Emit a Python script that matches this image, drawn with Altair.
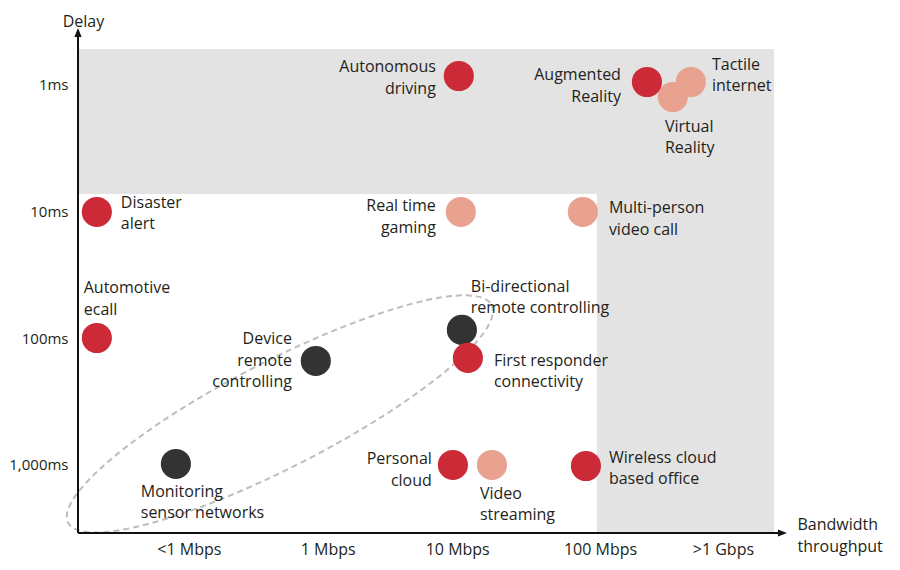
import json
import altair as alt
import pandas as pd

# ---- axis ticks (positions on an ordinal-like bandwidth / delay index) ----
x_tick_pos = [1.0, 2.04, 3.01, 4.08, 5.0]
x_tick_labels = ["<1 Mbps", "1 Mbps", "10 Mbps", "100 Mbps", ">1 Gbps"]
y_tick_pos = [1, 2, 3, 4]
y_tick_labels = ["1,000ms", "100ms", "10ms", "1ms"]
x_domain = [0.17, 5.48]
y_domain = [0.463, 4.449]

# ---- applications (drawing order) ----
app_names = ["Virtual\nReality", "Augmented\nReality", "Tactile\ninternet",
             "Autonomous\ndriving", "Disaster\nalert", "Real time\ngaming",
             "Multi-person\nvideo call", "Automotive\necall",
             "Device\nremote\ncontrolling", "Bi-directional\nremote controlling",
             "First responder\nconnectivity", "Monitoring\nsensor networks",
             "Personal\ncloud", "Video\nstreaming", "Wireless cloud\nbased office"]
app_bandwidth = [4.625, 4.431, 4.760, 3.022, 0.311, 3.037, 3.951, 0.311,
                 1.951, 3.045, 3.090, 0.903, 2.978, 3.270, 3.974]
app_delay = [3.904, 4.023, 4.023, 4.070, 2.997, 2.997, 2.997, 2.002,
             1.821, 2.066, 1.845, 1.008, 1.000, 1.000, 0.992]
app_group = ["light", "red", "light", "red", "red", "light", "light", "red",
             "dark", "dark", "red", "dark", "red", "light", "red"]
# label anchor = position of the first text line
label_x = [4.566, 4.236, 4.918, 2.850, 0.491, 2.850, 4.146, 0.213,
           1.772, 3.112, 3.285, 0.640, 2.820, 3.180, 4.146]
label_y = [3.668, 4.078, 4.157, 4.141, 3.068, 3.044, 3.028, 2.393,
           1.994, 2.405, 1.821, 0.787, 1.047, 0.771, 1.055]
label_side = ["left", "right", "left", "right", "left", "right", "left", "left",
              "right", "left", "left", "left", "right", "left", "left"]

group_domain = ["red", "light", "dark"]
group_colors = ["#cc2a36", "#e9a290", "#333333"]

# ---- shaded zones ----
zone_x = [0.17, 4.056]
zone_x2 = [5.382, 5.382]
zone_y = [3.139, 0.463]
zone_y2 = [4.283, 3.139]

# ---- dashed ellipse (IoT cluster) ----
ellipse_x = [1.682]
ellipse_y = [1.403]

apps = pd.DataFrame({"name": app_names, "x": app_bandwidth, "y": app_delay,
                     "group": app_group, "lx": label_x, "ly": label_y,
                     "side": label_side})
zones = pd.DataFrame({"x": zone_x, "x2": zone_x2, "y": zone_y, "y2": zone_y2})
ell = pd.DataFrame({"x": ellipse_x, "y": ellipse_y})
xaxis_df = pd.DataFrame({"x": [x_domain[0]], "x2": [5.44], "y": [y_domain[0]]})
yaxis_df = pd.DataFrame({"x": [x_domain[0]], "y": [y_domain[0]], "y2": [4.41]})
xarrow_df = pd.DataFrame({"x": [5.446], "y": [y_domain[0]]})
yarrow_df = pd.DataFrame({"x": [x_domain[0]], "y": [4.414]})

FONT = "Open Sans"
TXT = "#231f20"

x_expr = "%s[indexof(%s, datum.value)]" % (json.dumps(x_tick_labels), json.dumps(x_tick_pos))
y_expr = "%s[indexof(%s, datum.value)]" % (json.dumps(y_tick_labels), json.dumps(y_tick_pos))

xaxis = alt.Axis(values=x_tick_pos, labelExpr=x_expr, domain=False, ticks=False,
                 tickSize=0, grid=False, labelFlush=False, labelOverlap=False,
                 labelFont=FONT, labelFontSize=16, labelColor=TXT,
                 labelBaseline="middle", labelPadding=16,
                 title=["Bandwidth", "throughput"], titleAngle=0, titleX=719,
                 titleY=-9, titleAlign="left", titleBaseline="middle",
                 titleFont=FONT, titleFontSize=16, titleFontWeight="normal",
                 titleColor=TXT, titleLineHeight=22)
yaxis = alt.Axis(values=y_tick_pos, labelExpr=y_expr, domain=False, ticks=False,
                 tickSize=0, grid=False, labelFlush=False, labelOverlap=False,
                 labelFont=FONT, labelFontSize=15, labelColor=TXT,
                 labelPadding=10, labelAlign="right",
                 title="Delay", titleAngle=0, titleX=5, titleY=-7,
                 titleAlign="center", titleBaseline="middle",
                 titleFont=FONT, titleFontSize=16, titleFontWeight="normal",
                 titleColor=TXT)

xs = alt.Scale(domain=x_domain, nice=False, zero=False)
ys = alt.Scale(domain=y_domain, nice=False, zero=False)


def X(f="x"):
    return alt.X(f, type="quantitative", scale=xs, axis=xaxis)


def Y(f="y"):
    return alt.Y(f, type="quantitative", scale=ys, axis=yaxis)


zones_layer = alt.Chart(zones).mark_rect(color="#e3e3e3").encode(
    x=X(), x2="x2", y=Y(), y2="y2")

ellipse_path = ("M1,0 C1,0.123 0.552,0.2227 0,0.2227 C-0.552,0.2227 -1,0.123 -1,0 "
                "C-1,-0.123 -0.552,-0.2227 0,-0.2227 C0.552,-0.2227 1,-0.123 1,0 Z")
ellipse_layer = alt.Chart(ell).mark_point(
    shape=ellipse_path, size=476 * 476, angle=332.8, filled=False,
    stroke="#bdbdbd", strokeWidth=2, strokeDash=[6, 4], opacity=1
).encode(x=X(), y=Y())

xaxis_layer = alt.Chart(xaxis_df).mark_rule(color="#111111", strokeWidth=2).encode(
    x=X(), x2="x2", y=Y())
yaxis_layer = alt.Chart(yaxis_df).mark_rule(color="#111111", strokeWidth=2).encode(
    x=X(), y=Y(), y2="y2")
xarrow_layer = alt.Chart(xarrow_df).mark_point(
    shape="M-1,-0.8 L1,0 L-1,0.8 Z", size=81, filled=True, color="#111111",
    opacity=1).encode(x=X(), y=Y())
yarrow_layer = alt.Chart(yarrow_df).mark_point(
    shape="M-0.8,1 L0,-1 L0.8,1 Z", size=81, filled=True, color="#111111",
    opacity=1).encode(x=X(), y=Y())

points_layer = alt.Chart(apps).mark_circle(size=908, opacity=1).encode(
    x=X(), y=Y(),
    color=alt.Color("group:N", scale=alt.Scale(domain=group_domain, range=group_colors),
                    legend=None),
    order=alt.Order("order:Q"),
).transform_window(order="row_number()")

labels_left = alt.Chart(apps).transform_filter("datum.side == 'left'").mark_text(
    align="left", baseline="middle", font=FONT, fontSize=16, color=TXT,
    lineBreak="\n", lineHeight=21.5).encode(x=X("lx"), y=Y("ly"), text="name:N")
labels_right = alt.Chart(apps).transform_filter("datum.side == 'right'").mark_text(
    align="right", baseline="middle", font=FONT, fontSize=16, color=TXT,
    lineBreak="\n", lineHeight=21.5).encode(x=X("lx"), y=Y("ly"), text="name:N")

chart = alt.layer(
    zones_layer, ellipse_layer, xaxis_layer, yaxis_layer, xarrow_layer,
    yarrow_layer, points_layer, labels_left, labels_right
).properties(
    width=709, height=505,
    autosize=alt.AutoSizeParams(type="none"),
    padding={"left": 70, "top": 20, "right": 105, "bottom": 34},
    background="white",
).configure_view(stroke=None)

chart.save("out.html", embed_options={"renderer": "svg", "actions": False})
